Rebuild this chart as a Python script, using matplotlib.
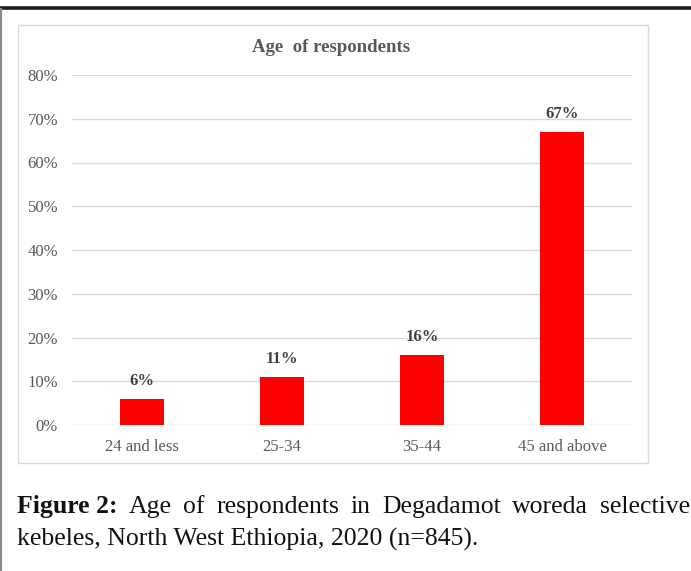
import matplotlib
matplotlib.use("Agg")
import matplotlib.pyplot as plt
from matplotlib.patches import Rectangle
from matplotlib.lines import Line2D

categories = ["24 and less", "25-34", "35-44", "45 and above"]
percent = [6, 11, 16, 67]
bar_labels = ["6%", "11%", "16%", "67%"]
y_ticks = [0, 10, 20, 30, 40, 50, 60, 70, 80]
title = "Age  of respondents"
caption_bold = "Figure 2:"
caption_line1 = ["Age", "of", "respondents", "in", "Degadamot", "woreda", "selective"]
caption_line2 = "kebeles, North West Ethiopia, 2020 (n=845)."

W, H = 691, 571
plt.rcParams["font.family"] = ["Liberation Serif", "DejaVu Serif"]

fig = plt.figure(figsize=(W / 100, H / 100), dpi=100)
fig.patch.set_facecolor("white")


def fx(px):
    return px / W


def fy(py):
    return 1 - py / H


# page decorations: thick rule on top, grey left border, chart frame
fig.add_artist(Line2D([0, 1], [fy(7.5), fy(7.5)], color="#1a1a1a", lw=2.6))
fig.add_artist(Line2D([fx(1), fx(1)], [fy(9), 0], color="#8a8a8a", lw=1.6))
fig.add_artist(Rectangle((fx(18), fy(463)), fx(648) - fx(18), fy(25) - fy(463),
                         transform=fig.transFigure, fill=False,
                         edgecolor="#d9d9d9", lw=1))

ax = fig.add_axes([fx(72), fy(425), fx(632) - fx(72), fy(75) - fy(425)])
x = list(range(len(categories)))
ax.bar(x, percent, width=0.314, color="#ff0000", zorder=3)
ax.set_xlim(-0.5, len(categories) - 0.5)
ax.set_ylim(0, 80)
ax.set_yticks(y_ticks)
ax.set_yticklabels([f"{v}%" for v in y_ticks])
ax.set_xticks(x)
ax.set_xticklabels(categories)
ax.tick_params(axis="both", length=0, colors="#595959", labelsize=12)
ax.tick_params(axis="y", pad=10)
ax.tick_params(axis="x", pad=10)
ax.grid(axis="y", color="#d9d9d9", lw=1, zorder=0)
for s in ax.spines.values():
    s.set_visible(False)

for xi, v, lab in zip(x, percent, bar_labels):
    ax.annotate(lab, (xi, v), xytext=(0, 7), textcoords="offset points",
                ha="center", va="bottom", fontsize=12, fontweight="bold",
                color="#404040", zorder=4)

fig.text(fx(331), fy(47), title, ha="center", va="center", fontsize=13.5,
         fontweight="bold", color="#595959")

# caption, first line justified across the page
cap_size = 18.5
renderer = fig.canvas.get_renderer()
x_left, x_right = 17, 690
y1, y2 = fy(507), fy(539)
pieces = [(caption_bold, "bold")] + [(w, "normal") for w in caption_line1]
texts = []
total = 0
for word, weight in pieces:
    t = fig.text(0, y1, word, ha="left", va="center", fontsize=cap_size,
                 fontweight=weight, color="#111111")
    w = t.get_window_extent(renderer).width
    texts.append((t, w))
    total += w
gap = (x_right - x_left - total) / (len(texts) - 1)
pos = x_left
for t, w in texts:
    t.set_x(fx(pos))
    pos += w + gap

fig.text(fx(x_left), y2, caption_line2, ha="left", va="center",
         fontsize=cap_size, color="#111111")

fig.savefig("out.png", dpi=100, facecolor="white")
